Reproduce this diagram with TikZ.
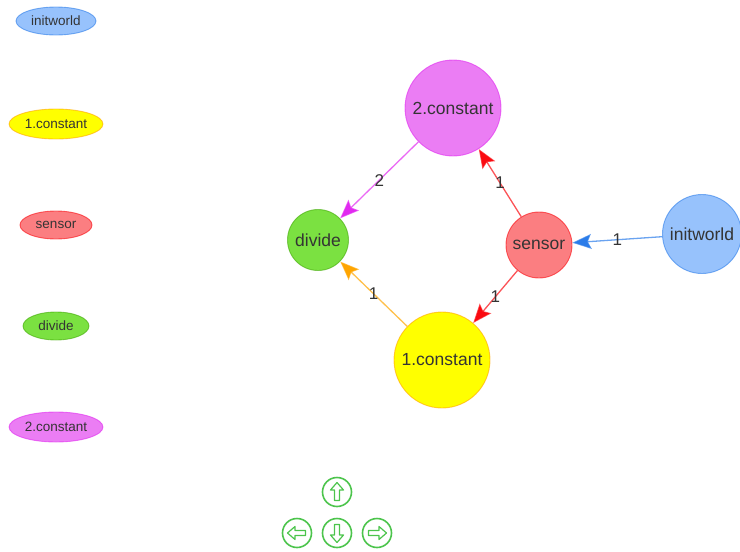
\documentclass[tikz,border=0pt]{standalone}
\usepackage{fontspec}
\setmainfont{Liberation Sans}
\usetikzlibrary{arrows.meta,shapes.geometric}

\definecolor{txt}{HTML}{343434}
\definecolor{bluebg}{HTML}{97C2FC}\definecolor{blueln}{HTML}{2B7CE9}
\definecolor{yelbg}{HTML}{FFFF00}\definecolor{yelln}{HTML}{FFA500}
\definecolor{redbg}{HTML}{FB7E81}\definecolor{redln}{HTML}{FA0A10}
\definecolor{grnbg}{HTML}{7BE141}\definecolor{grnln}{HTML}{41A906}
\definecolor{magbg}{HTML}{EB7DF4}\definecolor{magln}{HTML}{E129F0}
\definecolor{navgreen}{HTML}{4CC44C}

\tikzset{
  bignode/.style={circle, draw, line width=0.9pt, draw opacity=0.6, inner sep=0pt, text=txt,
    font=\fontsize{17.5}{20}\selectfont},
  keynode/.style={ellipse, draw, line width=0.9pt, draw opacity=0.6, inner sep=0pt, text=txt,
    font=\fontsize{13.5}{16}\selectfont},
  link/.style={line width=1.3pt, draw opacity=0.7},
  tip/.style={-{Stealth[length=19pt,width=15pt,inset=3.5pt,color=#1]}},
  elabel/.style={midway, text=txt, inner sep=0pt, font=\fontsize{17}{20}\selectfont},
  navbtn/.style={circle, draw=navgreen, line width=1.6pt, minimum size=29pt, inner sep=0pt},
  navglyph/.style={draw=navgreen, line width=1.2pt, line join=round}
}

\begin{document}
\begin{tikzpicture}[x=1pt,y=-1pt]
\useasboundingbox (0,0) rectangle (740,552);

% key column on the left
\node[keynode, fill=bluebg, draw=blueln, minimum width=80pt, minimum height=28pt] (kinit) at (56,21) {initworld};
\node[keynode, fill=yelbg, draw=yelln, minimum width=94pt, minimum height=30pt] (kone) at (56,124) {1.constant};
\node[keynode, fill=redbg, draw=redln, minimum width=72pt, minimum height=28pt] (ksens) at (56,225) {sensor};
\node[keynode, fill=grnbg, draw=grnln, minimum width=66pt, minimum height=28pt] (kdiv) at (56,326) {divide};
\node[keynode, fill=magbg, draw=magln, minimum width=94pt, minimum height=30pt] (ktwo) at (56,427) {2.constant};

% network
\node[bignode, fill=magbg, draw=magln, minimum size=96pt] (two) at (453,108) {2.constant};
\node[bignode, fill=grnbg, draw=grnln, minimum size=61pt] (div) at (318,240) {divide};
\node[bignode, fill=redbg, draw=redln, minimum size=66pt] (sens) at (539,245) {sensor};
\node[bignode, fill=bluebg, draw=blueln, minimum size=79pt] (init) at (702,234) {initworld};
\node[bignode, fill=yelbg, draw=yelln, minimum size=96pt] (one) at (442,360) {1.constant};

\draw[link, draw=blueln, tip=blueln] (init) -- node[elabel] {1} (sens);
\draw[link, draw=redln, tip=redln] (sens) -- node[elabel] {1} (two);
\draw[link, draw=redln, tip=redln] (sens) -- node[elabel] {1} (one);
\draw[link, draw=magln, tip=magln] (two) -- node[elabel] {2} (div);
\draw[link, draw=yelln, tip=yelln] (one) -- node[elabel] {1} (div);

% navigation buttons
\node[navbtn] (up) at (337,492) {};
\node[navbtn] (left) at (297,533) {};
\node[navbtn] (down) at (337,533) {};
\node[navbtn] (right) at (377,533) {};
\foreach \b/\r in {up/0, left/90, down/180, right/-90}{
  \begin{scope}[shift={(\b.center)}, rotate=\r]
    \draw[navglyph] (0,-9.5) -- (6.5,-2) -- (2.5,-2) -- (2.5,8.5) -- (-2.5,8.5)
      -- (-2.5,-2) -- (-6.5,-2) -- cycle;
  \end{scope}
}
\end{tikzpicture}
\end{document}
